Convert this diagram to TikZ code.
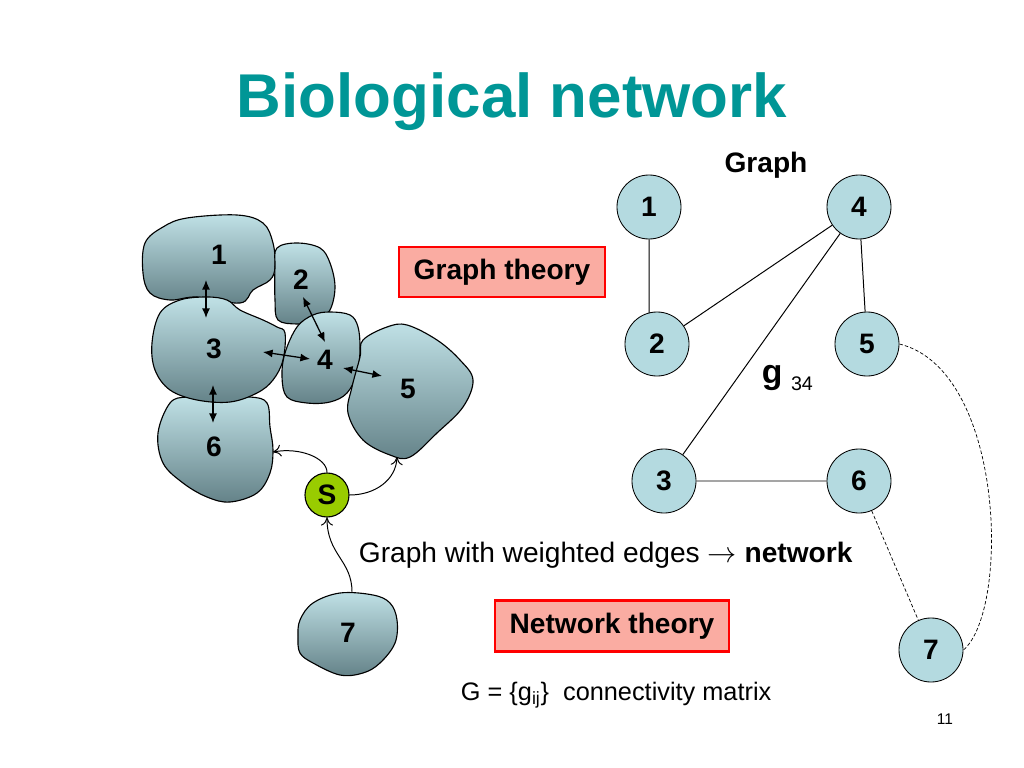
\documentclass[tikz,border=0pt]{standalone}
\usepackage{fontspec}
\setmainfont{Liberation Sans}
\usetikzlibrary{arrows.meta}
\definecolor{titleteal}{RGB}{0,150,150}
\definecolor{nodeblue}{RGB}{180,218,224}
\definecolor{rocklight}{RGB}{192,225,230}
\definecolor{rockdark}{RGB}{100,130,136}
\definecolor{sgreen}{RGB}{153,204,0}
\definecolor{boxpink}{RGB}{250,172,162}
\newcommand{\fsize}[1]{\fontsize{#1pt}{#1pt}\selectfont}
\begin{document}
\begin{tikzpicture}[x=0.025cm,y=-0.025cm,
    gnode/.style={circle,draw,line width=.6pt,fill=nodeblue,minimum size=1.6cm,inner sep=0pt,font=\fsize{20}\bfseries},
    rock/.style={draw,line width=.8pt,top color=rocklight,middle color=rocklight!88!rockdark,bottom color=rockdark},
    rlabel/.style={font=\fsize{20}\bfseries},
    theory/.style={draw=red,line width=2pt,fill=boxpink,font=\fsize{20}\bfseries,inner sep=0pt},
    dbl/.style={{Latex[length=2.4mm,width=2mm]}-{Latex[length=2.4mm,width=2mm]},line width=.9pt},
    curvearrow/.style={-{To[length=2mm,width=3mm]},line width=.7pt}]
  \useasboundingbox (0,0) rectangle (1024,768);
  \fill[white] (0,0) rectangle (1024,768);
  \node[anchor=base,text=titleteal,font=\fsize{44}\bfseries] (title) at (512,118) {Biological network};
  % cells
  \draw[rock] plot[smooth cycle,tension=.6] coordinates {(145,243)(163,227)(187,218)(237,215)(263,223)(273,243)(275,267)(270,280)(253,290)(240,303)(197,297)(170,300)(150,293)(143,273)};
  \draw[rock] plot[smooth cycle,tension=.6] coordinates {(277,248)(297,243)(320,248)(330,263)(335,287)(330,310)(317,322)(297,324)(278,320)(275,300)(275,267)};
  \draw[rock] plot[smooth cycle,tension=.6] coordinates {(170,403)(187,397)(213,398)(250,397)(267,403)(270,427)(273,450)(270,473)(257,493)(230,502)(207,497)(183,483)(163,463)(158,433)};
  \draw[rock] plot[smooth cycle,tension=.6] coordinates {(160,313)(180,300)(207,297)(227,300)(240,310)(263,320)(277,327)(285,333)(283,360)(273,380)(257,393)(230,402)(197,400)(170,390)(155,370)(152,343)};
  \draw[rock] plot[smooth cycle,tension=.6] coordinates {(297,327)(313,315)(330,312)(350,315)(358,327)(360,350)(357,373)(347,393)(330,402)(307,403)(287,397)(282,377)(285,353)};
  \draw[rock] plot[smooth cycle,tension=.6] coordinates {(363,340)(387,327)(407,325)(437,340)(460,360)(473,380)(463,407)(437,433)(410,457)(390,455)(363,440)(348,413)(352,387)(360,357)};
  \draw[rock] plot[smooth cycle,tension=.6] coordinates {(300,620)(313,603)(340,593)(373,595)(390,603)(397,620)(395,643)(380,663)(363,673)(340,675)(313,663)(300,653)(298,637)};
  \node[rlabel] (c1) at (219,255) {1};
  \node[rlabel] (c2) at (301,280) {2};
  \node[rlabel] (c3) at (214,349) {3};
  \node[rlabel] (c4) at (325,360) {4};
  \node[rlabel] (c5) at (408,389) {5};
  \node[rlabel] (c6) at (214,447) {6};
  \node[rlabel] (c7) at (348,633) {7};
  \node[circle,draw,line width=.8pt,fill=sgreen,minimum size=1.1cm,inner sep=0pt,font=\fsize{20}\bfseries] (s) at (327,495) {S};
  % contacts
  \coordinate (u13) at (206,280); \coordinate (v13) at (206,318);
  \coordinate (u24) at (303,297); \coordinate (v24) at (325,342);
  \coordinate (u34) at (263,352); \coordinate (v34) at (310,359);
  \coordinate (u45) at (343,368); \coordinate (v45) at (382,376);
  \coordinate (u36) at (213,385); \coordinate (v36) at (213,423);
  \foreach \a/\b in {u13/v13,u24/v24,u34/v34,u45/v45,u36/v36}
    \draw[dbl] (\a) -- (\b);
  \coordinate (e6) at (273,452);
  \coordinate (e5) at (397,457);
  \coordinate (t7) at (352,592);
  \draw[curvearrow] (s.north) .. controls (327,458) and (300,447) .. (e6);
  \draw[curvearrow] (s.east) .. controls (375,495) and (396,480) .. (e5);
  \draw[curvearrow] (t7) .. controls (352,560) and (327,555) .. (s.south);
  % boxes and text
  \node[theory,minimum width=5.15cm,minimum height=1.25cm] (gt) at (502,272) {Graph theory};
  \node[theory,minimum width=5.85cm,minimum height=1.275cm] (nt) at (612,626) {Network theory};
  \node[anchor=base west,font=\fsize{20}] (wtext) at (354,562) {Graph with weighted edges $\rightarrow$ \textbf{network}};
  \node[anchor=base west,font=\fsize{18}] (gmat) at (456,700) {G = \{g\textsubscript{ij}\}\ \ connectivity matrix};
  \node[anchor=base,font=\fsize{11}] (pg) at (945,724) {11};
  % graph
  \node[anchor=base,font=\fsize{20}\bfseries] (graph) at (766,172) {Graph};
  \node[gnode] (g1) at (649,207) {1};
  \node[gnode] (g4) at (859,207) {4};
  \node[gnode] (g2) at (657,344) {2};
  \node[gnode] (g5) at (867,344) {5};
  \node[gnode] (g3) at (664,481) {3};
  \node[gnode] (g6) at (859,481) {6};
  \node[gnode] (g7) at (931,650) {7};
  \coordinate (g2top) at (649,313);
  \draw[line width=.7pt] (g1.south) -- (g2top) (g2) -- (g4) (g3) -- (g4) (g4) -- (g5) (g3) -- (g6);
  \draw[line width=.5pt,dash pattern=on 2.5pt off 1.5pt] (g6) -- (g7);
  \draw[line width=.5pt,dash pattern=on 2.5pt off 1.5pt] (g5.east) .. controls (1005,370) and (1010,610) .. (g7.east);
  \node[anchor=base west,font=\fsize{24}\bfseries] (w34) at (757,383) {g\hspace{6pt}\raisebox{-5pt}{\fsize{14}\mdseries 34}};
\end{tikzpicture}
\end{document}
